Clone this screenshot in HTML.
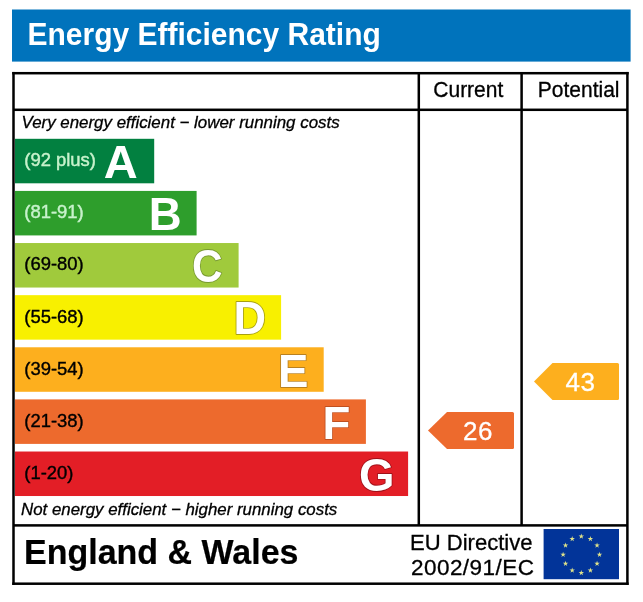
<!DOCTYPE html><html><head><meta charset="utf-8"><style>html,body{margin:0;padding:0;background:#fff;}body{width:643px;height:602px;overflow:hidden;}svg{display:block;filter:blur(0.45px);}text{font-family:"Liberation Sans", sans-serif;}</style></head><body>
<svg width="643" height="602" viewBox="0 0 643 602">
<rect x="0" y="0" width="643" height="602" fill="#fff"/>
<rect x="12" y="9.5" width="618.6" height="52.1" fill="#0073bc"/>
<text x="0" y="0" transform="translate(27.5,44.9) scale(1,1.05)" font-size="30" font-weight="bold" font-style="normal" fill="#fff" text-anchor="start">Energy Efficiency Rating</text>
<rect x="15" y="138.80" width="139.20" height="44.5" fill="#028040"/>
<text x="0" y="0" transform="translate(24.3,166.00000000000003) scale(0.97,1)" font-size="19" font-weight="normal" font-style="normal" fill="#c8f2cc" text-anchor="start" stroke="#c8f2cc" stroke-width="0.45">(92 plus)</text>
<text x="0" y="0" transform="translate(120.6,178.10000000000002) scale(1.0,1)" font-size="47" font-weight="bold" font-style="normal" fill="#fff" text-anchor="middle">A</text>
<rect x="15" y="190.92" width="181.60" height="44.5" fill="#2e9e2c"/>
<text x="0" y="0" transform="translate(24.3,217.72000000000003) scale(0.97,1)" font-size="19" font-weight="normal" font-style="normal" fill="#c8f2cc" text-anchor="start" stroke="#c8f2cc" stroke-width="0.45">(81-91)</text>
<text x="0" y="0" transform="translate(165.3,230.22000000000003) scale(0.97,1)" font-size="47" font-weight="bold" font-style="normal" fill="#fff" text-anchor="middle">B</text>
<rect x="15" y="243.04" width="223.60" height="44.5" fill="#a0ca3c"/>
<text x="0" y="0" transform="translate(24.3,269.84000000000003) scale(0.97,1)" font-size="19" font-weight="normal" font-style="normal" fill="#000" text-anchor="start" stroke="#000" stroke-width="0.4">(69-80)</text>
<text x="0" y="0" transform="translate(207.3,282.34000000000003) scale(0.9,1)" font-size="47" font-weight="bold" font-style="normal" fill="#fff" text-anchor="middle" stroke="#789a30" stroke-width="1.8" paint-order="stroke" stroke-linejoin="round">C</text>
<rect x="15" y="295.16" width="266.10" height="44.5" fill="#f8f000"/>
<text x="0" y="0" transform="translate(24.3,322.76) scale(0.97,1)" font-size="19" font-weight="normal" font-style="normal" fill="#000" text-anchor="start" stroke="#000" stroke-width="0.4">(55-68)</text>
<text x="0" y="0" transform="translate(249.7,334.46) scale(0.96,1)" font-size="47" font-weight="bold" font-style="normal" fill="#fff" text-anchor="middle" stroke="#a8a010" stroke-width="1.8" paint-order="stroke" stroke-linejoin="round">D</text>
<rect x="15" y="347.28" width="308.70" height="44.5" fill="#fdaf1e"/>
<text x="0" y="0" transform="translate(24.3,374.88) scale(0.97,1)" font-size="19" font-weight="normal" font-style="normal" fill="#000" text-anchor="start" stroke="#000" stroke-width="0.4">(39-54)</text>
<text x="0" y="0" transform="translate(293.1,386.58) scale(0.97,1)" font-size="47" font-weight="bold" font-style="normal" fill="#fff" text-anchor="middle" stroke="#b88020" stroke-width="1.8" paint-order="stroke" stroke-linejoin="round">E</text>
<rect x="15" y="399.40" width="350.90" height="44.5" fill="#ed6a2d"/>
<text x="0" y="0" transform="translate(24.3,427.0) scale(0.97,1)" font-size="19" font-weight="normal" font-style="normal" fill="#000" text-anchor="start" stroke="#000" stroke-width="0.4">(21-38)</text>
<text x="0" y="0" transform="translate(336.4,438.7) scale(0.97,1)" font-size="47" font-weight="bold" font-style="normal" fill="#fff" text-anchor="middle" stroke="#c05020" stroke-width="1.8" paint-order="stroke" stroke-linejoin="round">F</text>
<rect x="15" y="451.52" width="393.10" height="44.5" fill="#e31e26"/>
<text x="0" y="0" transform="translate(24.3,479.12) scale(0.97,1)" font-size="19" font-weight="normal" font-style="normal" fill="#000" text-anchor="start" stroke="#000" stroke-width="0.4">(1-20)</text>
<text x="0" y="0" transform="translate(376.8,490.82) scale(0.97,1)" font-size="47" font-weight="bold" font-style="normal" fill="#fff" text-anchor="middle" stroke="#a01018" stroke-width="1.8" paint-order="stroke" stroke-linejoin="round">G</text>
<rect x="12.25" y="71.95" width="616.40" height="2.5" fill="#000"/>
<rect x="12.25" y="582.45" width="616.40" height="2.5" fill="#000"/>
<rect x="12.25" y="71.95" width="2.5" height="513.00" fill="#000"/>
<rect x="626.15" y="71.95" width="2.5" height="513.00" fill="#000"/>
<rect x="417.55" y="73.2" width="2.5" height="452.20" fill="#000"/>
<rect x="520.35" y="73.2" width="2.5" height="452.20" fill="#000"/>
<rect x="13.5" y="108.55" width="613.90" height="2.5" fill="#000"/>
<rect x="13.5" y="524.15" width="613.90" height="2.5" fill="#000"/>
<text x="0" y="0" transform="translate(433.3,97.4) scale(1,1.05)" font-size="21" font-weight="normal" font-style="normal" fill="#000" text-anchor="start" stroke="#000" stroke-width="0.3">Current</text>
<text x="0" y="0" transform="translate(537.8,97.4) scale(1,1.02)" font-size="21" font-weight="normal" font-style="normal" fill="#000" text-anchor="start" stroke="#000" stroke-width="0.3">Potential</text>
<text x="0" y="0" transform="translate(21.5,128.4) scale(1,1)" font-size="16.9" font-weight="normal" font-style="italic" fill="#000" text-anchor="start" stroke="#000" stroke-width="0.3">Very energy efficient − lower running costs</text>
<text x="0" y="0" transform="translate(21.0,514.6) scale(0.998,1)" font-size="16.9" font-weight="normal" font-style="italic" fill="#000" text-anchor="start" stroke="#000" stroke-width="0.3">Not energy efficient − higher running costs</text>
<path d="M428 430.5 L447 412 H512.5 Q514 412 514 413.5 V447.5 Q514 449 512.5 449 H447 Z" fill="#ed6a2d"/>
<text x="0" y="0" transform="translate(478.0,440.2) scale(1,1)" font-size="26" font-weight="normal" font-style="normal" fill="#fff" text-anchor="middle" letter-spacing="0.6" stroke="#fff" stroke-width="0.3">26</text>
<path d="M534 381.5 L552.5 363 H617.5 Q619 363 619 364.5 V398.5 Q619 400 617.5 400 H552.5 Z" fill="#fdaf1e"/>
<text x="0" y="0" transform="translate(580.6,390.8) scale(1,1)" font-size="26" font-weight="normal" font-style="normal" fill="#fff" text-anchor="middle" letter-spacing="0.6" stroke="#fff" stroke-width="0.3">43</text>
<text x="0" y="0" transform="translate(24,564.2) scale(1,1.03)" font-size="34" font-weight="bold" font-style="normal" fill="#000" text-anchor="start" stroke="#000" stroke-width="0.2">England &amp; Wales</text>
<text x="0" y="0" transform="translate(410,550.4) scale(0.98,1)" font-size="22.5" font-weight="normal" font-style="normal" fill="#000" text-anchor="start" stroke="#000" stroke-width="0.3">EU Directive</text>
<text x="0" y="0" transform="translate(411,574.5) scale(1,1)" font-size="22.5" font-weight="normal" font-style="normal" fill="#000" text-anchor="start" letter-spacing="0.45" stroke="#000" stroke-width="0.3">2002/91/EC</text>
<rect x="543.6" y="529" width="75.4" height="50.2" fill="#023499"/>
<g fill="#dfe28a"><polygon points="581.30,533.50 581.95,535.50 584.06,535.50 582.35,536.74 583.00,538.75 581.30,537.51 579.60,538.75 580.25,536.74 578.54,535.50 580.65,535.50"/><polygon points="590.40,535.94 591.05,537.94 593.16,537.94 591.45,539.18 592.10,541.18 590.40,539.95 588.70,541.18 589.35,539.18 587.64,537.94 589.75,537.94"/><polygon points="597.06,542.60 597.71,544.60 599.82,544.60 598.12,545.84 598.77,547.85 597.06,546.61 595.36,547.85 596.01,545.84 594.30,544.60 596.41,544.60"/><polygon points="599.50,551.70 600.15,553.70 602.26,553.70 600.55,554.94 601.20,556.95 599.50,555.71 597.80,556.95 598.45,554.94 596.74,553.70 598.85,553.70"/><polygon points="597.06,560.80 597.71,562.80 599.82,562.80 598.12,564.04 598.77,566.05 597.06,564.81 595.36,566.05 596.01,564.04 594.30,562.80 596.41,562.80"/><polygon points="590.40,567.46 591.05,569.47 593.16,569.47 591.45,570.70 592.10,572.71 590.40,571.47 588.70,572.71 589.35,570.70 587.64,569.47 589.75,569.47"/><polygon points="581.30,569.90 581.95,571.90 584.06,571.90 582.35,573.14 583.00,575.15 581.30,573.91 579.60,575.15 580.25,573.14 578.54,571.90 580.65,571.90"/><polygon points="572.20,567.46 572.85,569.47 574.96,569.47 573.25,570.70 573.90,572.71 572.20,571.47 570.50,572.71 571.15,570.70 569.44,569.47 571.55,569.47"/><polygon points="565.54,560.80 566.19,562.80 568.30,562.80 566.59,564.04 567.24,566.05 565.54,564.81 563.83,566.05 564.48,564.04 562.78,562.80 564.89,562.80"/><polygon points="563.10,551.70 563.75,553.70 565.86,553.70 564.15,554.94 564.80,556.95 563.10,555.71 561.40,556.95 562.05,554.94 560.34,553.70 562.45,553.70"/><polygon points="565.54,542.60 566.19,544.60 568.30,544.60 566.59,545.84 567.24,547.85 565.54,546.61 563.83,547.85 564.48,545.84 562.78,544.60 564.89,544.60"/><polygon points="572.20,535.94 572.85,537.94 574.96,537.94 573.25,539.18 573.90,541.18 572.20,539.95 570.50,541.18 571.15,539.18 569.44,537.94 571.55,537.94"/></g>
</svg></body></html>
